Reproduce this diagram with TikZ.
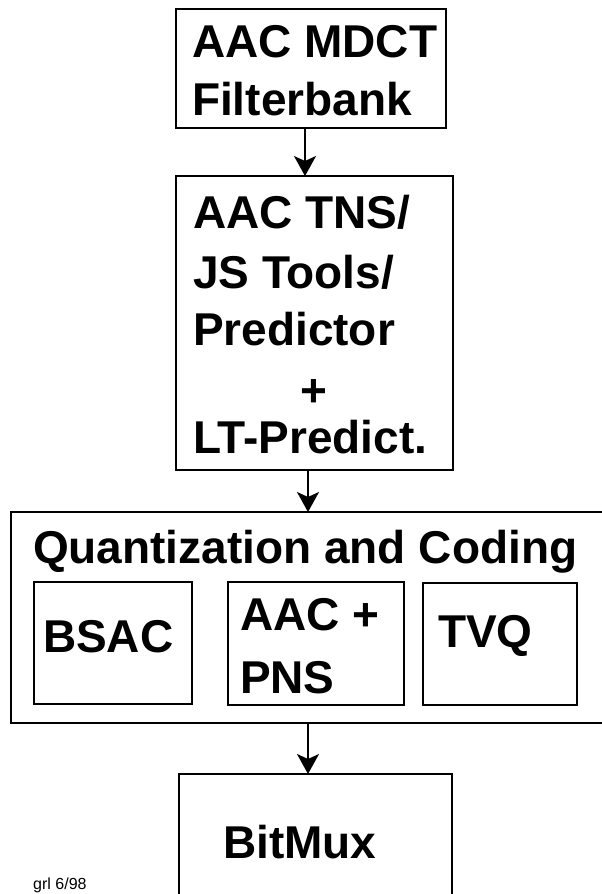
\documentclass[tikz,border=0pt]{standalone}
\usepackage{fontspec}
\setmainfont{Liberation Sans}
\usetikzlibrary{arrows.meta}
\tikzset{
  blk/.style={draw, line width=2.8pt, inner sep=0pt, outer sep=0pt},
  lbl/.style={anchor=base west, inner sep=0pt, outer sep=0pt,
              font=\fontsize{46}{50}\selectfont\bfseries},
  flow/.style={line width=2pt, -{Stealth[length=20pt, width=22pt, inset=5pt]}},
  tag/.style={anchor=base west, inner sep=0pt, font=\fontsize{16}{18}\selectfont}
}
\begin{document}
\begin{tikzpicture}[x=1pt, y=-1pt]
  \useasboundingbox (0,0) rectangle (602,894);

  % processing chain boxes
  \node[blk, minimum width=270pt, minimum height=119pt] (fb)  at (311,68.5) {};
  \node[blk, minimum width=277pt, minimum height=294pt] (tns) at (314.5,323) {};
  \node[blk, minimum width=609pt, minimum height=211pt] (qc)  at (315.5,617.5) {};
  \node[blk, minimum width=158pt, minimum height=122pt] (bsac) at (113,643) {};
  \node[blk, minimum width=176pt, minimum height=123pt] (pns)  at (316,643.5) {};
  \node[blk, minimum width=154pt, minimum height=122pt] (tvq)  at (500,644) {};
  \node[blk, minimum width=273pt, minimum height=166pt] (mux) at (315.5,857) {};

  % labels
  \node[lbl] (t1a) at (192,57)  {AAC MDCT};
  \node[lbl] (t1b) at (192,115) {Filterbank};
  \node[lbl] (t2a) at (193,228) {AAC TNS/};
  \node[lbl] (t2b) at (193,288) {JS Tools/};
  \node[lbl] (t2c) at (193,345) {Predictor};
  \node[lbl, anchor=base] (t2d) at (314,406) {+};
  \node[lbl] (t2e) at (193,453) {LT-Predict.};
  \node[lbl] (t3)  at (33,563)  {Quantization and Coding};
  \node[lbl] (t4)  at (43,652)  {BSAC};
  \node[lbl] (t5a) at (240,630) {AAC +};
  \node[lbl] (t5b) at (240,693) {PNS};
  \node[lbl] (t6)  at (438,647) {TVQ};
  \node[lbl] (t7)  at (223,858) {BitMux};
  \node[tag] (grl) at (33,889)  {grl 6/98};

  % connector columns
  \coordinate (c1) at (305,0);
  \coordinate (c2) at (308,0);

  \draw[flow] (fb.south -| c1) -- (tns.north -| c1);
  \draw[flow] (tns.south -| c2) -- (qc.north -| c2);
  \draw[flow] (qc.south -| c2) -- (mux.north -| c2);
\end{tikzpicture}
\end{document}
